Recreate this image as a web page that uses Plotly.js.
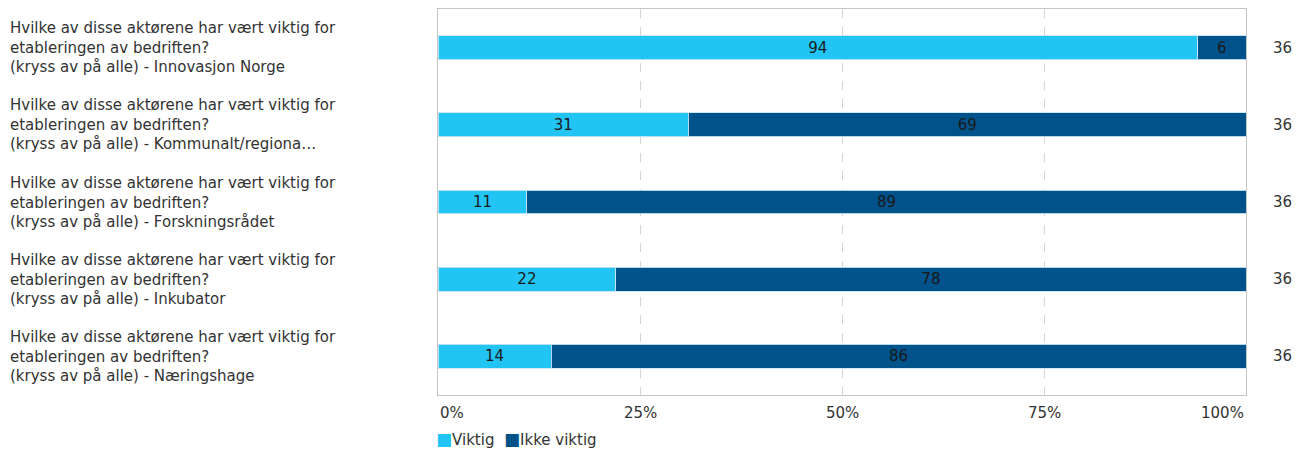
<!DOCTYPE html>
<html>
<head>
<meta charset="utf-8">
<script src="https://cdn.plot.ly/plotly-3.0.1.min.js"></script>
<style>html,body{margin:0;padding:0;background:#fff;}#chart{width:1296px;height:452px;}</style>
</head>
<body>
<div id="chart"></div>
<script>
const categories = [
  "Hvilke av disse aktørene har vært viktig for<br>etableringen av bedriften?<br>(kryss av på alle) - Innovasjon Norge",
  "Hvilke av disse aktørene har vært viktig for<br>etableringen av bedriften?<br>(kryss av på alle) - Kommunalt/regiona…",
  "Hvilke av disse aktørene har vært viktig for<br>etableringen av bedriften?<br>(kryss av på alle) - Forskningsrådet",
  "Hvilke av disse aktørene har vært viktig for<br>etableringen av bedriften?<br>(kryss av på alle) - Inkubator",
  "Hvilke av disse aktørene har vært viktig for<br>etableringen av bedriften?<br>(kryss av på alle) - Næringshage"
];
const viktig = [94, 31, 11, 22, 14];
const ikkeViktig = [6, 69, 89, 78, 86];
const nValues = [36, 36, 36, 36, 36];
const tickVals = [0, 25, 50, 75, 100];
const tickLabels = ["0%", "25%", "50%", "75%", "100%"];
const seriesNames = ["Viktig", "Ikke viktig"];
const seriesColors = ["#21c4f3", "#00538a"];

const FONT = "DejaVu Sans, Verdana, sans-serif";
const FS = 15;
const idx = categories.map((c, i) => i);
const W = 1296, H = 452, L = 438, R = 50, T = 9, B = 57;
const plotW = W - L - R, plotH = H - T - B;

function barTrace(vals, name, color) {
  return {
    type: 'bar', orientation: 'h', name: name,
    x: vals, y: idx,
    width: 0.31,
    marker: {color: color, line: {color: 'rgba(200,230,245,0.9)', width: 1}},
    text: vals.map(String), textposition: 'inside', insidetextanchor: 'middle',
    textangle: 0, constraintext: 'none',
    textfont: {family: FONT, size: FS, color: '#1a1a1a'},
    hoverinfo: 'none'
  };
}

const annotations = [];
categories.forEach((c, i) => {
  annotations.push({
    xref: 'paper', yref: 'y', x: (8 - L) / plotW, y: i,
    xanchor: 'left', yanchor: 'middle', align: 'left',
    text: c, showarrow: false,
    font: {family: FONT, size: FS, color: '#333333'}
  });
  annotations.push({
    xref: 'paper', yref: 'y', x: (1282 - L) / plotW, y: i,
    xanchor: 'center', yanchor: 'middle',
    text: String(nValues[i]), showarrow: false,
    font: {family: FONT, size: FS, color: '#333333'}
  });
});
tickVals.forEach((v, i) => {
  annotations.push({
    xref: 'x', yref: 'paper', x: v, y: -18 / plotH,
    xanchor: i === 0 ? 'left' : (i === tickVals.length - 1 ? 'right' : 'center'),
    yanchor: 'middle', text: tickLabels[i], showarrow: false,
    font: {family: FONT, size: FS, color: '#333333'}
  });
});
// legend built from the series names and colours
const legendText = seriesNames.map((n, i) =>
  '<span style="color:' + seriesColors[i] + ';font-size:17px">■</span>' + n).join('  ');
annotations.push({
  xref: 'paper', yref: 'paper', x: (434 - L) / plotW, y: -(H - T - B + 0) / plotH * 0 - 56 / plotH,
  xanchor: 'left', yanchor: 'bottom', text: legendText, showarrow: false,
  font: {family: FONT, size: FS, color: '#333333'}
});

const layout = {
  width: W, height: H,
  margin: {l: L, r: R, t: T, b: B, autoexpand: false},
  barmode: 'stack',
  paper_bgcolor: '#fff', plot_bgcolor: '#fff',
  showlegend: false,
  xaxis: {range: [0, 100], tickvals: tickVals, showticklabels: false,
          showgrid: true, gridcolor: '#d4d4d4', griddash: 'dash', gridwidth: 1,
          zeroline: false, showline: true, mirror: true, linecolor: '#c4c4c4', linewidth: 1,
          fixedrange: true},
  yaxis: {range: [4.5, -0.5], showticklabels: false, showgrid: false, zeroline: false,
          showline: true, mirror: true, linecolor: '#c4c4c4', linewidth: 1, fixedrange: true},
  annotations: annotations,
  font: {family: FONT, size: FS, color: '#333333'}
};

Plotly.newPlot('chart', [barTrace(viktig, seriesNames[0], seriesColors[0]), barTrace(ikkeViktig, seriesNames[1], seriesColors[1])], layout, {displayModeBar: false, staticPlot: true});
</script>
</body>
</html>
